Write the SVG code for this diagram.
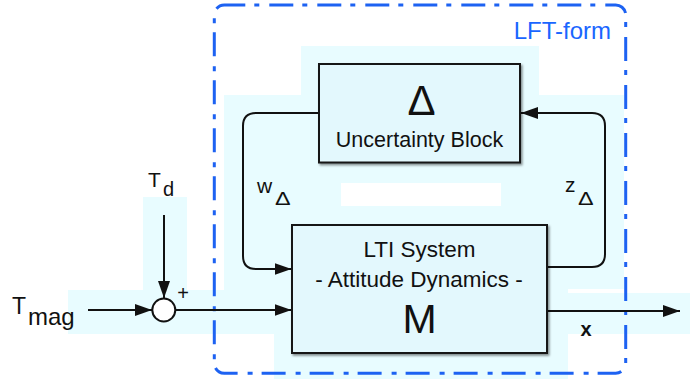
<svg xmlns="http://www.w3.org/2000/svg" width="690" height="379" viewBox="0 0 690 379">
  <defs>
    <style>
      .haze { fill: #e8fcff; }
      .box { fill: #e3f8fd; stroke: #151515; stroke-width: 2; filter: url(#shadow); }
      .wire { fill: none; stroke: #111; stroke-width: 2; }
      .lbl { font-family: "Liberation Sans", Arial, sans-serif; fill: #111; }
      .frame { fill: none; stroke: #1d62f2; stroke-width: 3; stroke-dasharray: 24 9 5 10; stroke-dashoffset: 3; }
    </style>
    <filter id="shadow" x="-10%" y="-10%" width="125%" height="130%">
      <feDropShadow dx="1.5" dy="1.8" stdDeviation="1.2" flood-color="#000" flood-opacity="0.45"/>
    </filter>
    <marker id="arrow" markerUnits="userSpaceOnUse" markerWidth="18" markerHeight="13" refX="17" refY="6" orient="auto">
      <path d="M0,0 L17,6 L0,12 z" fill="#111"/>
    </marker>
  </defs>

  <!-- light background panels behind the parts -->
  <g id="backdrop">
    <rect class="haze" x="301" y="46" width="238" height="137"/>
    <rect class="haze" x="224" y="95" width="117" height="195"/>
    <rect class="haze" x="501" y="95" width="123" height="194"/>
    <rect class="haze" x="274" y="206" width="294" height="173"/>
    <rect class="haze" x="68" y="290" width="224" height="44"/>
    <rect class="haze" x="143" y="197" width="44" height="93"/>
    <rect class="haze" x="548" y="293" width="142" height="41"/>
  </g>

  <!-- LFT frame -->
  <g id="lft-frame">
    <rect class="frame" x="214.3" y="5" width="411.4" height="368.3" rx="10"/>
    <text class="lbl" x="611" y="39" font-size="24" text-anchor="end" style="fill:#1a66ff">LFT-form</text>
  </g>

  <g id="connectors">
    <path class="wire" d="M319,113 H256 Q243,113 243,126 V256 Q243,269 256,269 H291.5" marker-end="url(#arrow)"/>
    <path class="wire" d="M547,267 H592 Q605,267 605,254 V126 Q605,113 592,113 H521" marker-end="url(#arrow)"/>
    <path class="wire" d="M164,215 V298" marker-end="url(#arrow)"/>
    <path class="wire" d="M88,310 H152" marker-end="url(#arrow)"/>
    <path class="wire" d="M175.5,310 H291.5" marker-end="url(#arrow)"/>
    <path class="wire" d="M547,311 H680" marker-end="url(#arrow)"/>
  </g>

  <g id="delta-block">
    <rect class="box" x="319" y="64" width="201" height="98.5"/>
    <text class="lbl" x="421.5" y="115" font-size="42" text-anchor="middle">Δ</text>
    <text class="lbl" x="419.5" y="146.5" font-size="21.5" text-anchor="middle">Uncertainty Block</text>
  </g>

  <g id="m-block">
    <rect class="box" x="292" y="225" width="255" height="128"/>
    <text class="lbl" x="419.5" y="257" font-size="22.5" text-anchor="middle">LTI System</text>
    <text class="lbl" x="419" y="286.5" font-size="22.5" text-anchor="middle">- Attitude Dynamics -</text>
    <text class="lbl" x="419.5" y="333" font-size="41" text-anchor="middle">M</text>
  </g>

  <g id="sum-junction">
    <circle cx="163.8" cy="310" r="11.5" fill="#fff" stroke="#111" stroke-width="2"/>
    <text class="lbl" x="183" y="300" font-size="20" text-anchor="middle">+</text>
  </g>

  <g id="signal-labels">
    <text class="lbl" x="148" y="187" font-size="21">T</text>
    <text class="lbl" x="163" y="196" font-size="20">d</text>
    <text class="lbl" x="12" y="314" font-size="23">T</text>
    <text class="lbl" x="28" y="324.5" font-size="24">mag</text>
    <text class="lbl" x="586" y="336" font-size="20" font-weight="bold" text-anchor="middle">x</text>
    <text class="lbl" x="257" y="193" font-size="21">w</text>
    <text class="lbl" transform="translate(275,205) scale(1.3,1)" x="0" y="0" font-size="18">Δ</text>
    <text class="lbl" x="565" y="191.5" font-size="21">z</text>
    <text class="lbl" transform="translate(578,204.5) scale(1.3,1)" x="0" y="0" font-size="18">Δ</text>
  </g>
</svg>
